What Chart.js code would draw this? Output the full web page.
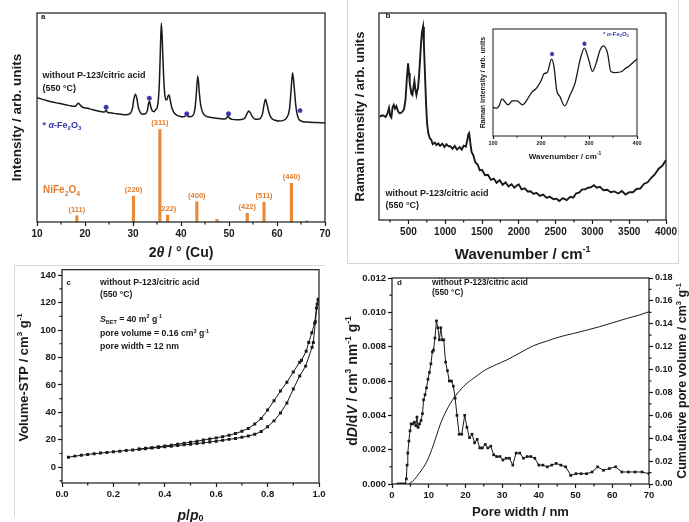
<!DOCTYPE html>
<html>
<head>
<meta charset="utf-8">
<title>NiFe2O4 without P-123/citric acid</title>
<script src="https://cdn.jsdelivr.net/npm/chart.js@4.4.1/dist/chart.umd.min.js"></script>
<style>
  html, body { margin: 0; padding: 0; background: #fff; }
  body { position: relative; width: 689px; height: 522px; overflow: hidden; }
  canvas { position: absolute; }
  .rule { position: absolute; background: #d6d6d6; }
</style>
</head>
<body>
<div class="rule" style="left:347px;top:0;width:1px;height:263px"></div>
<div class="rule" style="left:347px;top:263px;width:332px;height:1px"></div>
<div class="rule" style="left:678px;top:0;width:1px;height:263px"></div>
<div class="rule" style="left:14px;top:265px;width:311px;height:1px"></div>
<div class="rule" style="left:14px;top:265px;width:1px;height:252px"></div>

<canvas id="chartA" width="345" height="265" style="left:0;top:0"></canvas>
<canvas id="chartB" width="349" height="265" style="left:340px;top:0"></canvas>
<canvas id="chartInset" width="175" height="143" style="left:470px;top:22px"></canvas>
<canvas id="chartC" width="345" height="260" style="left:0;top:262px"></canvas>
<canvas id="chartD" width="349" height="260" style="left:340px;top:262px"></canvas>

<script>
// ---- panel a: XRD pattern + NiFe2O4 reference reflections ----
const xrdTheta = [10,11,12,13,14,15,16,17,17.8,18.2,
  18.6,19.0,19.5,20.5,21.5,22.5,23.5,24.1,24.4,24.7,
  25.5,26.5,27.5,28.5,29.3,29.9,30.15,30.5,30.85,31.1,
  31.5,32.0,32.6,33.0,33.25,33.45,33.7,34.0,34.4,34.75,
  35.0,35.3,35.5,35.7,35.9,36.1,36.3,36.55,36.8,37.05,
  37.3,37.5,37.75,38.05,38.5,39.0,39.7,40.4,40.85,41.15,
  41.45,41.9,42.5,42.9,43.15,43.5,43.85,44.1,44.5,45.1,
  46.0,47.0,48.0,49.0,49.5,49.8,50.1,50.7,51.6,52.6,
  53.3,53.75,54.1,54.5,54.9,55.5,56.3,57.0,57.3,57.6,
  57.95,58.3,58.8,59.6,60.5,61.3,62.0,62.6,62.9,63.25,
  63.6,63.9,64.2,64.6,64.9,65.4,66.5,68,70];
const xrdIntensity = [59.5,58.8,58.1,57.5,57.0,56.6,56.1,55.6,55.3,55.8,
  56.8,56.0,54.9,54.4,53.8,53.2,52.7,52.6,53.6,52.4,
  52.2,51.8,51.5,51.3,51.7,54.5,58.5,61.1,58.5,55.0,
  52.5,51.6,51.8,53.4,56.8,57.6,55.2,53.2,52.8,53.8,
  54.5,59.0,67.0,82.0,95.1,87.0,74.0,63.0,58.5,58.5,
  60.3,60.8,58.5,55.0,52.5,51.3,50.6,50.3,50.6,51.5,
  50.6,50.4,51.0,54.0,60.0,69.9,61.0,56.0,52.5,50.8,
  50.1,49.8,49.5,49.3,49.7,50.8,49.7,49.1,48.9,49.0,
  49.8,51.8,53.1,52.0,50.3,49.2,49.3,52.0,56.0,58.7,
  56.0,52.5,49.8,48.7,48.3,48.6,49.8,54.0,62.0,71.4,
  64.0,56.0,51.5,49.0,48.5,48.0,47.8,47.6,47.4];
const refTheta = [18.3, 30.1, 35.6, 37.2, 43.3, 47.5, 53.8, 57.3, 63.0, 66.2];
const refIntensity = [3.0, 12.4, 44.3, 3.3, 9.7, 1.2, 4.2, 9.4, 18.5, 0.6];
const refHkl = ['(111)', '(220)', '(311)', '(222)', '(400)', '', '(422)', '(511)', '(440)', ''];
const hematiteTheta = [24.4, 33.4, 41.2, 49.9, 64.8];
const hematiteMark = [54.9, 59.2, 51.8, 51.8, 53.3];
const xrdTicks = [10, 20, 30, 40, 50, 60, 70];

// ---- panel b: Raman spectrum ----
const ramanWave = [110,150,190,215,236,252,268,285,300,318,
  336,360,382,410,440,460,478,495,508,518,
  527,540,554,568,581,595,609,620,630,645,
  658,672,685,699,710,726,740,753,770,790,
  810,830,858,880,905,930,960,990,1017,1045,
  1070,1100,1130,1160,1198,1225,1250,1280,1300,1315,
  1325,1340,1357,1380,1410,1440,1470,1500,1540,1580,
  1620,1660,1697,1740,1780,1820,1860,1900,1940,1980,
  2000,2037,2080,2120,2160,2200,2240,2286,2330,2380,
  2420,2470,2513,2550,2600,2650,2700,2740,2780,2820,
  2860,2900,2940,2980,3020,3060,3102,3150,3200,3250,
  3300,3350,3400,3450,3500,3550,3600,3650,3700,3750,
  3800,3850,3900,3950,4000];
const ramanIntensity = [50.0,50.6,49.8,51.5,54.2,50.3,49.5,54.6,55.6,53.8,
  55.0,52.4,51.5,52.0,53.4,58,68,75.7,71,66,
  64.0,61,60.4,64,67.1,63,60.4,62.5,63.6,70,
  77.6,86,91,93.4,85,69.2,56,46.7,42,39.5,
  38.8,36.6,37.4,36.2,37.0,35.8,36.8,35.2,36.6,35.6,
  35.6,34.4,35.8,34.0,35.2,34.0,35.9,35.4,38.6,41.5,
  42.0,37.5,33.0,31.4,27.8,26.8,24.0,24.2,21.6,21.8,
  19.4,20.0,18.0,19.2,17.0,18.2,16.2,17.3,15.6,16.9,
  17.2,14.8,15.3,13.8,13.9,12.6,13.1,11.6,12.3,10.7,
  11.3,10.0,10.3,9.2,10.6,9.6,11.2,10.8,12.9,13.2,
  14.8,14.8,15.6,15.8,16.8,15.6,16.0,14.4,14.6,13.4,
  13.8,12.8,14.0,12.3,13.4,13.4,15.0,15.2,17.4,18.2,
  20.4,22.1,24.8,26.2,29.0];
const ramanTicks = [500, 1000, 1500, 2000, 2500, 3000, 3500, 4000];

// inset of panel b
const insetWave = [100,107,112.6,118.9,124.4,131.4,140.5,150.2,161.4,169.8,
  180.2,190.7,201.2,206.1,213,222.1,227,232.6,239.5,249.3,
  260.5,271,281.4,290.5,299.5,307.2,314.9,323.3,330.2,338.6,
  345.6,354.7,368.6,376.3,382.6,391.6,400];
const insetIntensity = [26.9,25.9,28.1,34.7,32.2,29.1,32.8,32.8,29.1,33.1,
  40.6,44.7,52.5,58.1,59.3,71.9,65.0,43.1,36.8,28.1,
  38.4,49.4,71.2,82.2,71.2,60.3,68.1,80.6,84.3,77.5,
  60.3,59.3,60.3,63.4,65,68.7,71.9];
const insetStarWave = [223, 290.5];
const insetStarMark = [76.6, 86.2];
const insetTicks = [100, 200, 300, 400];

// ---- panel c: N2 isotherm ----
const adsP = [0.025,0.05,0.075,0.1,0.125,0.15,0.175,0.2,0.225,0.25,
  0.275,0.3,0.325,0.35,0.375,0.4,0.425,0.45,0.475,0.5,
  0.525,0.55,0.575,0.6,0.625,0.65,0.675,0.7,0.725,0.75,
  0.775,0.8,0.825,0.85,0.875,0.9,0.925,0.948,0.973,0.978,
  0.986,0.993,0.997];
const adsV = [7.3,8.1,8.7,9.3,9.8,10.3,10.8,11.3,11.7,12.2,
  12.6,13.1,13.5,14.0,14.4,14.9,15.3,15.8,16.3,16.8,
  17.3,17.8,18.4,19.0,19.6,20.3,21.0,21.8,22.8,24.0,
  26.0,29.5,33.8,39.5,46.8,57.0,66.5,73.7,87.5,91.0,
  106,119,122];
const desP = [0.997,0.99,0.983,0.972,0.96,0.95,0.932,0.925,0.9,0.875,
  0.85,0.825,0.8,0.775,0.75,0.725,0.7,0.675,0.65,0.625,
  0.6,0.575,0.55,0.525,0.5,0.475,0.45,0.425,0.4,0.375,
  0.35,0.325,0.3];
const desV = [122.5,116,105,98,91,84.5,78,76.5,69.5,62,
  55.5,48.5,41.7,35.5,31.5,28.3,26.2,24.6,23.3,22.3,
  21.4,20.6,19.8,19.0,18.2,17.5,16.8,16.1,15.5,14.9,
  14.3,13.8,13.3];
const isoPTicks = [0, 0.2, 0.4, 0.6, 0.8, 1.0];
const isoVTicks = [0, 20, 40, 60, 80, 100, 120, 140];

// ---- panel d: pore size distribution ----
const poreWidth = [1.6,2.1,2.6,3.1,3.6,3.9,4.1,4.3,4.6,4.9,
  5.2,5.7,6.1,6.5,6.8,7.1,7.5,7.9,8.3,8.6,
  9.0,9.4,9.8,10.2,10.6,11.0,11.3,11.7,12.1,12.5,
  12.9,13.3,13.7,14.1,14.6,15.1,15.6,16.2,16.7,17.2,
  17.7,18.3,19.0,19.8,20.4,21.1,21.8,22.5,23.2,23.9,
  24.6,25.4,26.1,26.9,27.7,28.5,29.4,30.2,31.1,32.0,
  32.9,33.8,34.8,35.8,36.8,37.8,38.9,40.0,41.1,42.3,
  43.5,44.7,46.0,47.3,48.7,50.1,51.5,53.0,54.5,56.0,
  57.6,59.2,60.9,62.6,64.4,66.2,68.1,70.0];
const dDdV = [0,0,0,0,0,0.0003,0.0011,0.0018,0.0025,0.0031,
  0.0035,0.0035,0.0036,0.0034,0.0039,0.0033,0.0035,0.0037,0.0041,0.0049,
  0.0052,0.0056,0.0061,0.0065,0.0070,0.0077,0.0078,0.0085,0.0095,0.0091,
  0.0084,0.0091,0.0084,0.0084,0.0071,0.0066,0.0060,0.0060,0.0057,0.0050,
  0.0040,0.0029,0.0029,0.0040,0.0033,0.0027,0.0029,0.0024,0.0026,0.0021,
  0.0021,0.0023,0.0021,0.0022,0.0017,0.0016,0.0016,0.0014,0.0015,0.0015,
  0.0011,0.0018,0.0018,0.0015,0.0016,0.0016,0.0015,0.0011,0.0011,0.0010,
  0.0011,0.0012,0.0011,0.0010,0.0005,0.0006,0.0006,0.0006,0.0007,0.0010,
  0.0008,0.0009,0.0010,0.0007,0.0007,0.0007,0.0007,0.0006];
const cumWidth = [4.5,5.5,6.8,8,9.5,11.3,13.1,14.9,16.8,18.6,20.4,22.2,24.9,28.5,31.2,34.9,38.5,42.1,45.7,49.4,53.0,56.6,60.2,63.8,67.5,70];
const cumVolume = [0,0.002,0.0067,0.012,0.0197,0.0343,0.0517,0.0647,0.0749,0.0822,0.088,0.0923,0.0987,0.1045,0.1083,0.1147,0.1208,0.1248,0.1286,0.1315,0.1344,0.1375,0.141,0.1445,0.1478,0.1505];
const poreTicks = [0, 10, 20, 30, 40, 50, 60, 70];
const dDdVTicks = [0, 0.002, 0.004, 0.006, 0.008, 0.010, 0.012];
const cumTicks = [0, 0.02, 0.04, 0.06, 0.08, 0.10, 0.12, 0.14, 0.16, 0.18];

// ---- styling helpers ----
const FAMILY = '"Liberation Sans", Arial, Helvetica, sans-serif';
const INK = '#1a1a1a';
const BLUE = '#3636a8';
const ORANGE = '#e98a3b';
const ORANGE_TXT = '#e07c2f';

const pts = (xs, ys) => xs.map((x, i) => ({ x: x, y: ys[i] }));
const seg = (t, size, o = {}) => ({ t: t, font: `${o.style || 'normal'} bold ${size}px ${FAMILY}`, dy: o.dy || 0 });

function drawNote(ctx, area, n) {
  ctx.save();
  ctx.translate(area.left + n.dx, area.top + n.dy);
  if (n.rot) ctx.rotate(n.rot);
  ctx.fillStyle = n.color || INK;
  ctx.textBaseline = 'middle';
  ctx.textAlign = 'left';
  let w = 0;
  n.segs.forEach(s => { ctx.font = s.font; w += ctx.measureText(s.t).width; });
  let x = n.align === 'center' ? -w / 2 : 0;
  n.segs.forEach(s => { ctx.font = s.font; ctx.fillText(s.t, x, s.dy); x += ctx.measureText(s.t).width; });
  ctx.restore();
}

// frame box, minor ticks, free text and bar labels
function framePlugin(cfg) {
  return {
    id: 'frame',
    afterDraw(chart) {
      const { ctx, chartArea: a } = chart;
      ctx.save();
      ctx.strokeStyle = INK;
      ctx.lineWidth = cfg.lineWidth || 1.2;
      ctx.strokeRect(a.left, a.top, a.right - a.left, a.bottom - a.top);
      (cfg.minor || []).forEach(m => {
        const s = chart.scales[m.id];
        const major = s.ticks.map(t => t.value);
        ctx.beginPath();
        for (let k = Math.ceil(s.min / m.step - 1e-9); k * m.step <= s.max + 1e-9; k++) {
          const v = k * m.step;
          if (major.some(mv => Math.abs(mv - v) < m.step / 10)) continue;
          const p = s.getPixelForValue(v);
          const len = m.len || 2.5;
          if (s.position === 'bottom') { ctx.moveTo(p, a.bottom); ctx.lineTo(p, a.bottom + len); }
          else if (s.position === 'left') { ctx.moveTo(a.left, p); ctx.lineTo(a.left - len, p); }
          else { ctx.moveTo(a.right, p); ctx.lineTo(a.right + len, p); }
        }
        ctx.stroke();
      });
      if (cfg.barLabels) {
        const bl = cfg.barLabels;
        const meta = chart.getDatasetMeta(bl.dataset);
        ctx.font = bl.font;
        ctx.fillStyle = bl.color;
        ctx.textAlign = 'center';
        ctx.textBaseline = 'middle';
        meta.data.forEach((el, i) => { if (bl.labels[i]) ctx.fillText(bl.labels[i], el.x, el.y - bl.gap); });
      }
      (cfg.notes || []).forEach(n => drawNote(ctx, a, n));
      ctx.restore();
    }
  };
}

function axis(o) {
  const hasTicks = Array.isArray(o.ticks) && o.ticks.length > 0;
  return {
    type: 'linear', position: o.position, min: o.min, max: o.max, offset: false,
    afterBuildTicks: s => { s.ticks = hasTicks ? o.ticks.map(v => ({ value: v })) : []; },
    afterFit: s => { if (o.position === 'bottom') s.height = o.size; else s.width = o.size; },
    ticks: {
      display: hasTicks, color: INK, padding: o.tickPad ?? 2, maxRotation: 0, minRotation: 0, autoSkip: false,
      font: { family: FAMILY, size: o.tickSize || 10, weight: 'bold' },
      callback: o.fmt || (v => String(v))
    },
    grid: { display: hasTicks, drawOnChartArea: false, drawTicks: true, tickLength: o.tickLen || 4, tickColor: INK, tickWidth: 1.2, offset: false },
    border: { display: false },
    title: o.title ? {
      display: true, text: o.title, color: INK,
      font: Object.assign({ family: FAMILY, weight: 'bold' }, o.titleFont), padding: o.titlePad
    } : { display: false }
  };
}

function baseOptions(padding, scales) {
  return {
    responsive: false, animation: false, devicePixelRatio: 1, events: [],
    layout: { padding: padding },
    plugins: { legend: { display: false }, tooltip: { enabled: false } },
    scales: scales
  };
}

const sample = [seg('without P-123/citric acid', 9)];
const temp = [seg('(550 \u00B0C)', 9)];

// ---- chart a ----
new Chart(document.getElementById('chartA'), {
  type: 'line',
  data: {
    datasets: [
      { type: 'line', data: pts(xrdTheta, xrdIntensity), borderColor: INK, borderWidth: 1.5, pointRadius: 0, cubicInterpolationMode: 'monotone', order: 1 },
      { type: 'bar', data: pts(refTheta, refIntensity), backgroundColor: ORANGE, barThickness: 2.5, order: 2 },
      { type: 'scatter', data: pts(hematiteTheta, hematiteMark), pointStyle: 'star', pointRadius: 2.5, borderColor: BLUE, borderWidth: 1.3, order: 0 }
    ]
  },
  options: baseOptions({ left: 0, top: 13, right: 20, bottom: 0 }, {
    x: axis({ position: 'bottom', min: 10, max: 70, ticks: xrdTicks, size: 43 }),
    y: axis({ position: 'left', min: 0, max: 100, size: 37, title: 'Intensity / arb. units', titleFont: { size: 13.5 }, titlePad: { top: 9, bottom: 0 } })
  }),
  plugins: [framePlugin({
    minor: [{ id: 'x', step: 5 }],
    barLabels: { dataset: 1, labels: refHkl, font: `bold 7.5px ${FAMILY}`, color: ORANGE_TXT, gap: 6 },
    notes: [
      { dx: 4, dy: 3.5, segs: [seg('a', 8)] },
      { dx: 5.5, dy: 63, segs: sample },
      { dx: 5.5, dy: 76, segs: temp },
      { dx: 5.5, dy: 113, color: BLUE, segs: [seg('* ', 9), seg('\u03B1', 9, { style: 'italic' }), seg('-Fe', 9), seg('2', 6, { dy: 2.5 }), seg('O', 9), seg('3', 6, { dy: 2.5 })] },
      { dx: 6, dy: 177.7, color: ORANGE_TXT, segs: [seg('NiFe', 10), seg('2', 7, { dy: 3 }), seg('O', 10), seg('4', 7, { dy: 3 })] },
      { dx: 144, dy: 240, align: 'center', segs: [seg('2', 14), seg('\u03B8', 14, { style: 'italic' }), seg(' / \u00B0 (Cu)', 14)] }
    ]
  })]
});

// ---- chart b ----
new Chart(document.getElementById('chartB'), {
  type: 'line',
  data: { datasets: [
    { data: pts(ramanWave, ramanIntensity), borderColor: INK, borderWidth: 1.9, pointRadius: 0, tension: 0 }
  ] },
  options: baseOptions({ left: 0, top: 13, right: 23, bottom: 0 }, {
    x: axis({ position: 'bottom', min: 100, max: 4000, ticks: ramanTicks, size: 45 }),
    y: axis({ position: 'left', min: 0, max: 100, size: 39, title: 'Raman intensity / arb. units', titleFont: { size: 13 }, titlePad: { top: 13, bottom: 0 } })
  }),
  plugins: [framePlugin({
    minor: [{ id: 'x', step: 250 }],
    notes: [
      { dx: 6.5, dy: 3, segs: [seg('b', 8)] },
      { dx: 6.5, dy: 181, segs: sample },
      { dx: 6.5, dy: 193, segs: temp },
      { dx: 143.7, dy: 242, align: 'center', segs: [seg('Wavenumber / cm', 15), seg('-1', 9, { dy: -5 })] }
    ]
  })]
});

// ---- inset of b ----
new Chart(document.getElementById('chartInset'), {
  type: 'line',
  data: { datasets: [
    { data: pts(insetWave, insetIntensity), borderColor: INK, borderWidth: 1.3, pointRadius: 0, cubicInterpolationMode: 'monotone' },
    { type: 'scatter', data: pts(insetStarWave, insetStarMark), pointStyle: 'star', pointRadius: 2.2, borderColor: BLUE, borderWidth: 1.1 }
  ] },
  options: baseOptions({ left: 0, top: 7, right: 8, bottom: 0 }, {
    x: axis({ position: 'bottom', min: 100, max: 400, ticks: insetTicks, size: 29, tickSize: 5.5, tickLen: 3, tickPad: 1 }),
    y: axis({ position: 'left', min: 0, max: 100, size: 23, title: 'Raman intensity / arb. units', titleFont: { size: 7 }, titlePad: { top: 8.8, bottom: 0 } })
  }),
  plugins: [framePlugin({
    lineWidth: 1,
    minor: [{ id: 'x', step: 50, len: 1.8 }],
    notes: [
      { dx: 110, dy: 5, color: BLUE, segs: [seg('* ', 6), seg('\u03B1', 6, { style: 'italic' }), seg('-Fe', 6), seg('2', 4, { dy: 1.5 }), seg('O', 6), seg('3', 4, { dy: 1.5 })] },
      { dx: 72, dy: 127.7, align: 'center', segs: [seg('Wavenumber / cm', 8), seg('-1', 5, { dy: -3 })] }
    ]
  })]
});

// ---- chart c ----
const squares = { pointStyle: 'rect', pointRadius: 2.1, pointBackgroundColor: INK, pointBorderWidth: 0, borderColor: INK, borderWidth: 1, tension: 0 };
new Chart(document.getElementById('chartC'), {
  type: 'line',
  data: { datasets: [
    Object.assign({ data: pts(adsP, adsV) }, squares),
    Object.assign({ data: pts(desP, desV) }, squares)
  ] },
  options: baseOptions({ left: 0, top: 5, right: 26, bottom: 0 }, {
    x: axis({ position: 'bottom', min: 0, max: 1, ticks: isoPTicks, size: 39, tickSize: 9.5, fmt: v => v.toFixed(1) }),
    y: axis({ position: 'left', min: -11.5, max: 144, ticks: isoVTicks, size: 62, tickSize: 9.5 })
  }),
  plugins: [framePlugin({
    minor: [{ id: 'x', step: 0.1 }, { id: 'y', step: 10 }],
    notes: [
      { dx: 4.5, dy: 13.3, segs: [seg('c', 8)] },
      { dx: 38, dy: 13.3, segs: [seg('without P-123/citric acid', 8.7)] },
      { dx: 38, dy: 25, segs: [seg('(550 \u00B0C)', 8.7)] },
      { dx: 38, dy: 50, segs: [seg('S', 8.7, { style: 'italic' }), seg('BET', 5.5, { dy: 2.5 }), seg(' = 40 m', 8.7), seg('2', 5.5, { dy: -3 }), seg(' g', 8.7), seg('-1', 5.5, { dy: -3 })] },
      { dx: 38, dy: 64.3, segs: [seg('pore volume = 0.16 cm', 8.7), seg('3', 5.5, { dy: -3 }), seg(' g', 8.7), seg('-1', 5.5, { dy: -3 })] },
      { dx: 38, dy: 76.6, segs: [seg('pore width = 12 nm', 8.7)] },
      { dx: 128.5, dy: 246, align: 'center', segs: [seg('p', 14, { style: 'italic' }), seg('/', 14), seg('p', 14, { style: 'italic' }), seg('0', 9, { dy: 3 })] },
      { dx: -38, dy: 107.7, rot: -Math.PI / 2, align: 'center', segs: [seg('Volume-STP / cm', 13), seg('3', 8, { dy: -4 }), seg(' g', 13), seg('-1', 8, { dy: -4 })] }
    ]
  })]
});

// ---- chart d ----
new Chart(document.getElementById('chartD'), {
  type: 'line',
  data: { datasets: [
    Object.assign({ data: pts(poreWidth, dDdV), yAxisID: 'y' }, squares, { pointRadius: 1.9 }),
    { data: pts(cumWidth, cumVolume), yAxisID: 'y2', borderColor: INK, borderWidth: 1, pointRadius: 0, cubicInterpolationMode: 'monotone' }
  ] },
  options: baseOptions({ left: 0, top: 16, right: 0, bottom: 0 }, {
    x: axis({ position: 'bottom', min: 0, max: 70, ticks: poreTicks, size: 38, tickSize: 9.5, title: 'Pore width / nm', titleFont: { size: 13 }, titlePad: { top: 0, bottom: 1.5 } }),
    y: axis({ position: 'left', min: 0, max: 0.012, ticks: dDdVTicks, size: 52, tickSize: 9.5, fmt: v => v.toFixed(3) }),
    y2: axis({ position: 'right', min: 0, max: 0.18, ticks: cumTicks, size: 40, tickSize: 9, fmt: v => v.toFixed(2) })
  }),
  plugins: [framePlugin({
    minor: [{ id: 'x', step: 5 }, { id: 'y', step: 0.001 }, { id: 'y2', step: 0.01 }],
    notes: [
      { dx: 5, dy: 5, segs: [seg('d', 8)] },
      { dx: 40, dy: 5, segs: [seg('without P-123/citric acid', 8.4)] },
      { dx: 40, dy: 14.5, segs: [seg('(550 \u00B0C)', 8.4)] },
      { dx: -39, dy: 103, rot: -Math.PI / 2, align: 'center', segs: [seg('d', 14), seg('D', 14, { style: 'italic' }), seg('/d', 14), seg('V', 14, { style: 'italic' }), seg(' / cm', 14), seg('3', 8.5, { dy: -4.5 }), seg(' nm', 14), seg('-1', 8.5, { dy: -4.5 }), seg(' g', 14), seg('-1', 8.5, { dy: -4.5 })] },
      { dx: 290.5, dy: 103, rot: -Math.PI / 2, align: 'center', segs: [seg('Cumulative pore volume / cm', 12.5), seg('3', 7.5, { dy: -3.5 }), seg(' g', 12.5), seg('-1', 7.5, { dy: -3.5 })] }
    ]
  })]
});
</script>
</body>
</html>
